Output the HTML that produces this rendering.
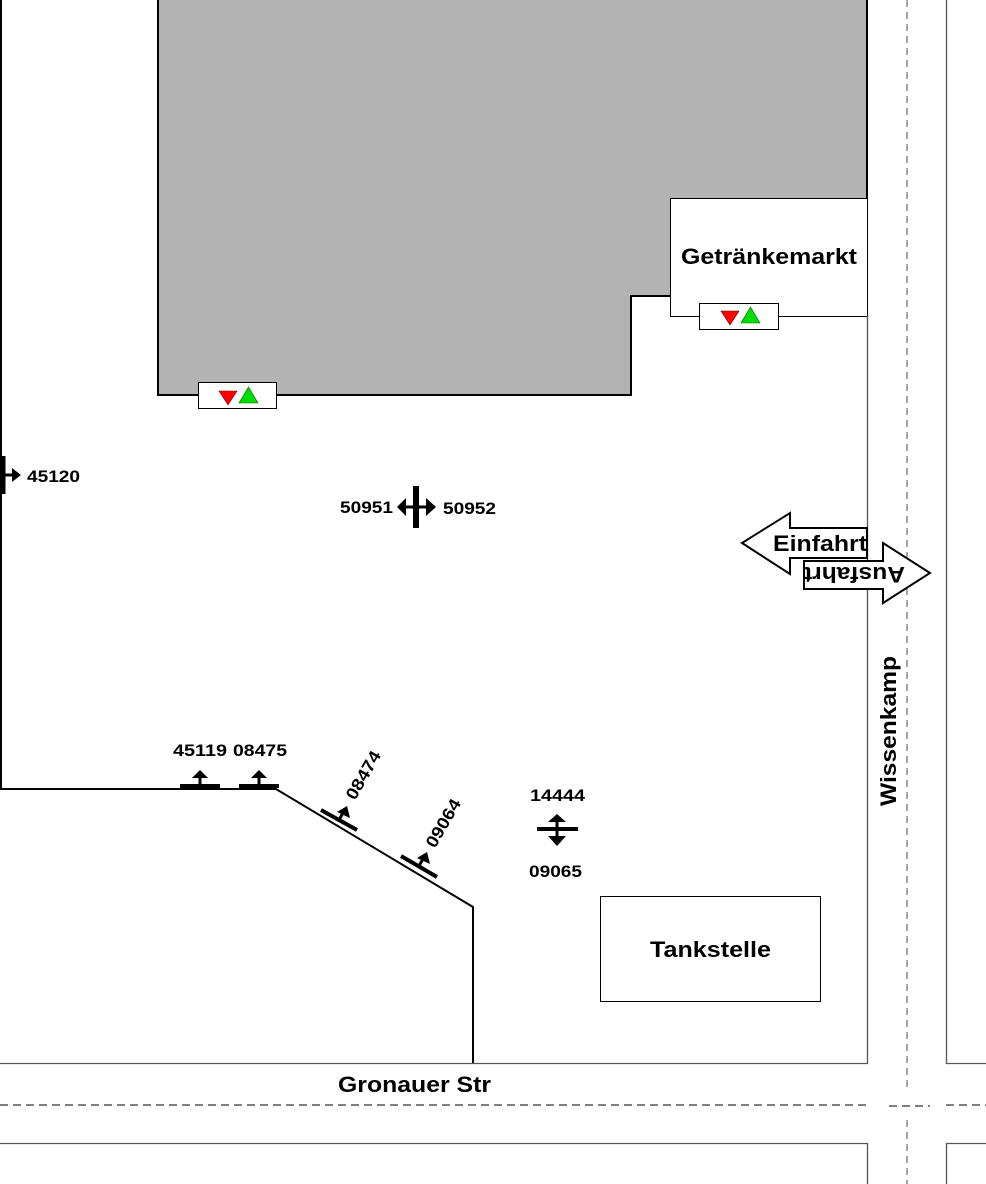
<!DOCTYPE html>
<html><head><meta charset="utf-8"><style>html,body{margin:0;padding:0;background:#fff}svg{display:block}text{font-family:"Liberation Sans",sans-serif;font-weight:bold;fill:#000}</style></head><body>
<svg width="986" height="1184" viewBox="0 0 986 1184" xmlns="http://www.w3.org/2000/svg">
<polygon points="158,0 867,0 867,198 670,198 670,296 631,296 631,395 158,395" fill="#b3b3b3"/>
<polyline points="158,0 158,395 631,395 631,296 670,296" fill="none" stroke="#000" stroke-width="2"/>
<rect x="670.5" y="198.5" width="197" height="118" fill="#fff" stroke="#000" stroke-width="1"/>
<text x="681" y="264" font-size="22" textLength="176" lengthAdjust="spacingAndGlyphs">Getränkemarkt</text>
<line x1="867" y1="0" x2="867" y2="198" stroke="#000" stroke-width="2"/>
<rect x="198.5" y="382.5" width="78" height="26" fill="#fff" stroke="#000"/>
<polygon points="219,391 237,391 228,405" fill="#f00" stroke="#600" stroke-width="0.6"/>
<polygon points="239,403 258,403 248.5,387" fill="#0d0" stroke="#060" stroke-width="0.6"/>
<rect x="699.5" y="303.5" width="79" height="26" fill="#fff" stroke="#000"/>
<polygon points="721,311 739,311 730,325" fill="#f00" stroke="#600" stroke-width="0.6"/>
<polygon points="741,323 760,323 750.5,307" fill="#0d0" stroke="#060" stroke-width="0.6"/>
<polyline points="1,0 1,789 276,789 473,907 473,1063" fill="none" stroke="#000" stroke-width="2"/>
<g stroke="#555" stroke-width="1.3" fill="none">
<polyline points="0,1063.5 867.5,1063.5 867.5,316"/>
<polyline points="0,1143.5 867.5,1143.5 867.5,1184"/>
<polyline points="946.5,0 946.5,1063.5 986,1063.5"/>
<polyline points="986,1143.5 946.5,1143.5 946.5,1184"/>
</g>
<line x1="907" y1="0" x2="907" y2="1090" stroke="#888" stroke-width="1.5" stroke-dasharray="7,5"/>
<line x1="907" y1="1120" x2="907" y2="1184" stroke="#888" stroke-width="1.5" stroke-dasharray="7,5"/>
<line x1="0" y1="1105" x2="868" y2="1105" stroke="#333" stroke-width="1.3" stroke-dasharray="8,5"/>
<line x1="889" y1="1106" x2="930" y2="1106" stroke="#333" stroke-width="1.3" stroke-dasharray="8,5"/>
<line x1="946" y1="1105" x2="986" y2="1105" stroke="#333" stroke-width="1.3" stroke-dasharray="8,5"/>
<text x="338" y="1092" font-size="22" textLength="153" lengthAdjust="spacingAndGlyphs">Gronauer Str</text>
<text transform="translate(896,806) rotate(-90)" font-size="22" textLength="150" lengthAdjust="spacingAndGlyphs">Wissenkamp</text>
<polygon points="867,528 790,528 790,513 742,543 790,574 790,558 867,558" fill="#fff" stroke="#000" stroke-width="2"/>
<text x="773" y="551" font-size="22" textLength="94" lengthAdjust="spacingAndGlyphs">Einfahrt</text>
<polygon points="804,561 883,561 883,543 930,573 883,603 883,589 804,589" fill="#fff" stroke="#000" stroke-width="2"/>
<text transform="translate(905,567) rotate(180)" font-size="22" textLength="101" lengthAdjust="spacingAndGlyphs">Ausfahrt</text>
<rect x="600.5" y="896.5" width="220" height="105" fill="#fff" stroke="#000"/>
<text x="650" y="957" font-size="22" textLength="121" lengthAdjust="spacingAndGlyphs">Tankstelle</text>
<g fill="#000" stroke="#000">
<line x1="3" y1="456" x2="3" y2="494" stroke-width="5"/>
<line x1="3" y1="475" x2="13" y2="475" stroke-width="3"/>
<polygon points="12,468 21,475 12,482" stroke="none"/>
<line x1="416" y1="486" x2="416" y2="528" stroke-width="6"/>
<line x1="404" y1="507" x2="428" y2="507" stroke-width="3"/>
<polygon points="406,498 397,507 406,516" stroke="none"/>
<polygon points="426,498 436,507 426,516" stroke="none"/>
<line x1="180" y1="786" x2="220" y2="786" stroke-width="4"/>
<line x1="200" y1="786" x2="200" y2="777" stroke-width="3"/>
<polygon points="192,778 208,778 200,770" stroke="none"/>
<line x1="239" y1="786" x2="279" y2="786" stroke-width="4"/>
<line x1="259" y1="786" x2="259" y2="777" stroke-width="3"/>
<polygon points="251,778 267,778 259,770" stroke="none"/>
<line x1="321" y1="810" x2="357" y2="830" stroke-width="4"/>
<line x1="339" y1="820" x2="344" y2="811" stroke-width="3"/>
<polygon points="337,812 350,818 347,806" stroke="none"/>
<line x1="401" y1="856" x2="437" y2="877" stroke-width="4"/>
<line x1="419" y1="866" x2="424" y2="857" stroke-width="3"/>
<polygon points="417,858 430,864 427,852" stroke="none"/>
<line x1="537" y1="829" x2="578" y2="829" stroke-width="4"/>
<line x1="557" y1="820" x2="557" y2="838" stroke-width="3"/>
<polygon points="548,822 566,822 557,814" stroke="none"/>
<polygon points="548,836 566,836 557,846" stroke="none"/>
</g>
<g font-size="17" lengthAdjust="spacingAndGlyphs">
<text x="27" y="482" textLength="53" lengthAdjust="spacingAndGlyphs">45120</text>
<text x="340" y="513" textLength="53" lengthAdjust="spacingAndGlyphs">50951</text>
<text x="443" y="514" textLength="53" lengthAdjust="spacingAndGlyphs">50952</text>
<text x="173" y="756" textLength="54" lengthAdjust="spacingAndGlyphs">45119</text>
<text x="233" y="756" textLength="54" lengthAdjust="spacingAndGlyphs">08475</text>
<text x="530" y="801" textLength="55" lengthAdjust="spacingAndGlyphs">14444</text>
<text x="529" y="877" textLength="53" lengthAdjust="spacingAndGlyphs">09065</text>
<text transform="translate(355,801) rotate(-60)" textLength="53" lengthAdjust="spacingAndGlyphs">08474</text>
<text transform="translate(435,849) rotate(-60)" textLength="53" lengthAdjust="spacingAndGlyphs">09064</text>
</g>
</svg>
</body></html>
